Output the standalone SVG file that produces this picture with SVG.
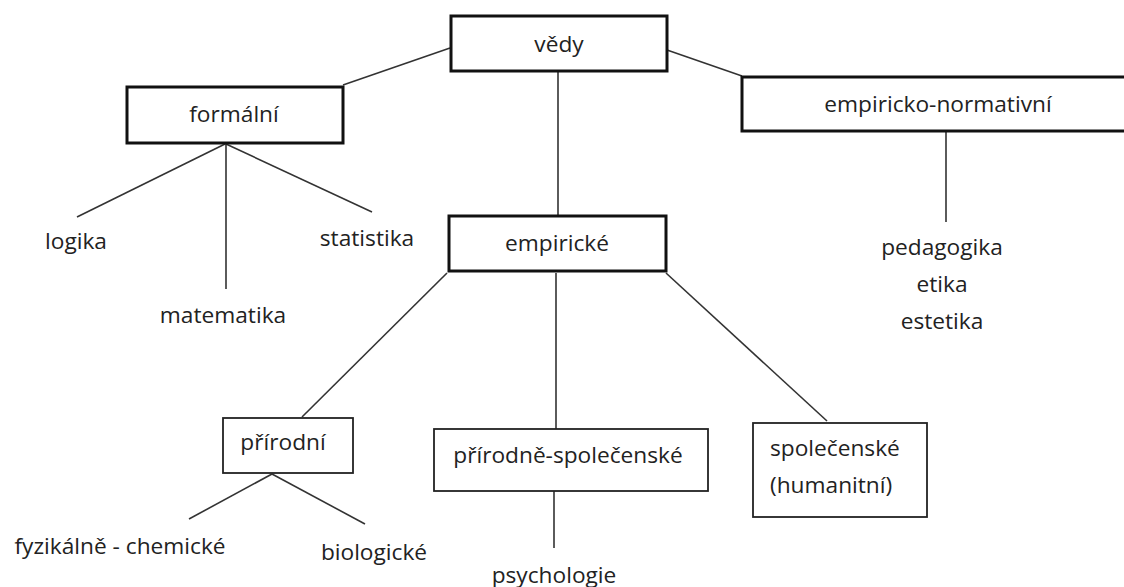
<svg xmlns="http://www.w3.org/2000/svg" width="1124" height="587" viewBox="0 0 1124 587">
<style>
text{font-family:"Open Sans","Noto Sans","Liberation Sans",sans-serif;font-size:22.7px;fill:#222;}
.mid{text-anchor:middle;}
.thick{fill:#fff;stroke:#111;stroke-width:3;}
.thin{fill:#fff;stroke:#222;stroke-width:1.8;}
.conn line{stroke:#333;stroke-width:1.6;}
</style>
<rect width="1124" height="587" fill="#fff"/>
<g id="connectors" class="conn">
<line x1="450" y1="48" x2="343" y2="85"/>
<line x1="667" y1="50" x2="742" y2="76"/>
<line x1="558" y1="71" x2="558" y2="215"/>
<line x1="946" y1="131" x2="946" y2="222"/>
<line x1="225" y1="144" x2="77" y2="217"/>
<line x1="226" y1="144" x2="226" y2="289"/>
<line x1="226" y1="144" x2="372" y2="212"/>
<line x1="447" y1="273" x2="302" y2="417"/>
<line x1="556" y1="273" x2="556" y2="429"/>
<line x1="666" y1="273" x2="827" y2="421"/>
<line x1="272" y1="474" x2="189" y2="519"/>
<line x1="272" y1="474" x2="365" y2="524"/>
<line x1="554" y1="491" x2="554" y2="548"/>
</g>
<g id="vedy">
<rect class="thick" x="451" y="16" width="216" height="55"/>
<text class="mid" x="559" y="52">vědy</text>
</g>
<g id="formalni">
<rect class="thick" x="127" y="87" width="216" height="56"/>
<text class="mid" x="234" y="122">formální</text>
</g>
<g id="empiricko-normativni">
<rect class="thick" x="742" y="77" width="390" height="54"/>
<text class="mid" x="938" y="112">empiricko-normativní</text>
</g>
<g id="empiricke">
<rect class="thick" x="449" y="216" width="217" height="55"/>
<text class="mid" x="557" y="251">empirické</text>
</g>
<g id="prirodni">
<rect class="thin" x="223" y="418" width="130" height="55"/>
<text class="mid" x="283" y="450">přírodní</text>
</g>
<g id="prirodne-spolecenske">
<rect class="thin" x="434" y="429" width="274" height="62"/>
<text class="mid" x="568" y="463">přírodně-společenské</text>
</g>
<g id="spolecenske">
<rect class="thin" x="753" y="423" width="174" height="94"/>
<text x="770" y="456">společenské</text>
<text x="770" y="493">(humanitní)</text>
</g>
<g id="logika"><text class="mid" x="76" y="249">logika</text></g>
<g id="matematika"><text class="mid" x="223" y="323">matematika</text></g>
<g id="statistika"><text class="mid" x="367" y="246">statistika</text></g>
<g id="pedagogika"><text class="mid" x="942" y="255">pedagogika</text></g>
<g id="etika"><text class="mid" x="942" y="292">etika</text></g>
<g id="estetika"><text class="mid" x="942" y="329">estetika</text></g>
<g id="fyzikalne-chemicke"><text class="mid" x="120" y="554">fyzikálně - chemické</text></g>
<g id="biologicke"><text class="mid" x="374" y="560">biologické</text></g>
<g id="psychologie"><text class="mid" x="554" y="583">psychologie</text></g>
</svg>
